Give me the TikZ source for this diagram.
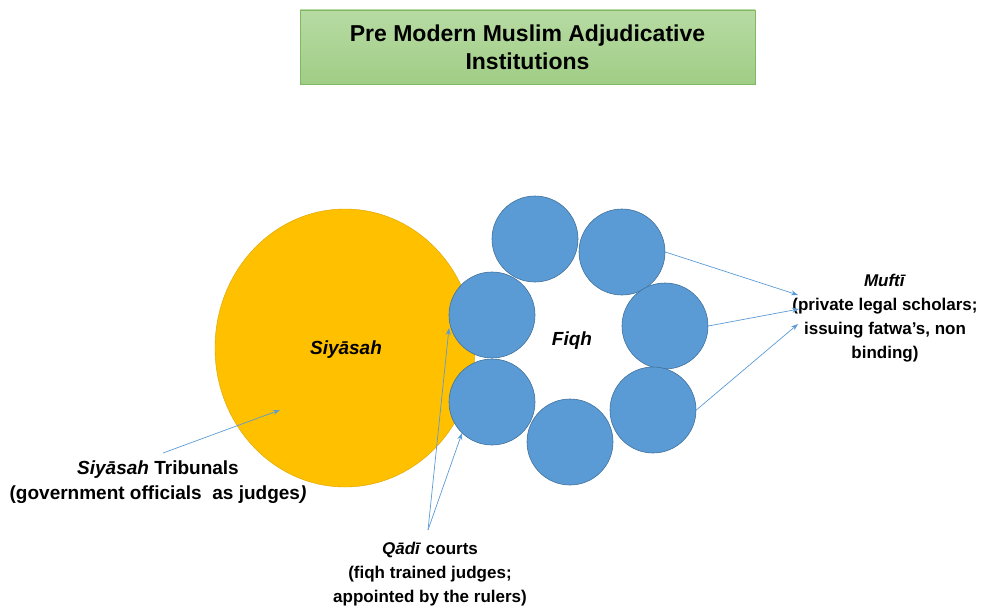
\documentclass[tikz,border=0pt]{standalone}
\usepackage{fontspec}
\setmainfont{Liberation Sans}
\usetikzlibrary{arrows.meta,shapes.geometric}
\definecolor{orangefill}{HTML}{FFC000}
\definecolor{orangeline}{HTML}{D9A300}
\definecolor{bluefill}{HTML}{5B9BD5}
\definecolor{blueline}{HTML}{41719C}
\definecolor{arrowblue}{HTML}{5B9BD5}
\definecolor{greentop}{HTML}{B7DBA3}
\definecolor{greenbot}{HTML}{A0CD86}
\definecolor{greenline}{HTML}{80B866}
\tikzset{
  bubble/.style={circle, fill=bluefill, draw=blueline, line width=0.6pt, minimum size=86pt, inner sep=0pt},
  bigsun/.style={ellipse, fill=orangefill, draw=orangeline, line width=0.4pt, minimum width=260pt, minimum height=278pt, inner sep=0pt},
  lbl/.style={align=center, font=\fontsize{17}{24}\selectfont\bfseries, inner sep=0pt},
  biglbl/.style={align=center, font=\fontsize{19}{25}\selectfont\bfseries, inner sep=0pt},
  inlbl/.style={font=\fontsize{19}{22}\selectfont\bfseries\itshape, inner sep=0pt},
  conn/.style={draw=arrowblue, line width=0.7pt, -{Stealth[length=7pt,width=5pt]}},
  titlebox/.style={draw=greenline, line width=0.6pt, top color=greentop, bottom color=greenbot, minimum width=455pt, minimum height=74pt, align=center, font=\fontsize{23}{28}\selectfont\bfseries}
}
\begin{document}
\begin{tikzpicture}[x=1pt,y=-1pt]
\useasboundingbox (0,0) rectangle (992,610);
\node[titlebox] (title) at (527.5,47) {Pre Modern Muslim Adjudicative\\Institutions};

\node[bigsun] (siy) at (345,348) {};
\node[inlbl] (siytext) at (346,350) {Siyāsah};

\node[bubble] (c1) at (535,239) {};
\node[bubble] (c2) at (622,252) {};
\node[bubble] (c3) at (665,326) {};
\node[bubble] (c4) at (653,410) {};
\node[bubble] (c5) at (570,442) {};
\node[bubble] (c6) at (492,402) {};
\node[bubble] (c7) at (492,315) {};
\node[inlbl] (fiqh) at (572,341) {Fiqh};

\node[biglbl] (siylbl) at (158,482) {\textit{Siyāsah} Tribunals\\(government officials\ \ as judges\textit{)}};
\node[lbl] (qadi) at (430,574) {\textit{Qādī} courts\\(fiqh trained judges;\\appointed by the rulers)};
\node[lbl] (mufti) at (885,318) {\textit{Muftī}\\(private legal scholars;\\issuing fatwa’s, non\\binding)};

\coordinate (siytail) at (163,453);
\coordinate (siyhead) at (280,410);
\coordinate (qtail) at (428,530);
\coordinate (qhead1) at (449,328);
\coordinate (qhead2) at (462,433);
\coordinate (mhead1) at (798,295);
\coordinate (mhead2) at (799,309);
\coordinate (mhead3) at (798,324);

\draw[conn] (siytail) -- (siyhead);
\draw[conn] (qtail) -- (qhead1);
\draw[conn] (qtail) -- (qhead2);
\draw[conn] (c2.east) -- (mhead1);
\draw[conn] (c3.east) -- (mhead2);
\draw[conn] (c4.east) -- (mhead3);
\end{tikzpicture}
\end{document}
